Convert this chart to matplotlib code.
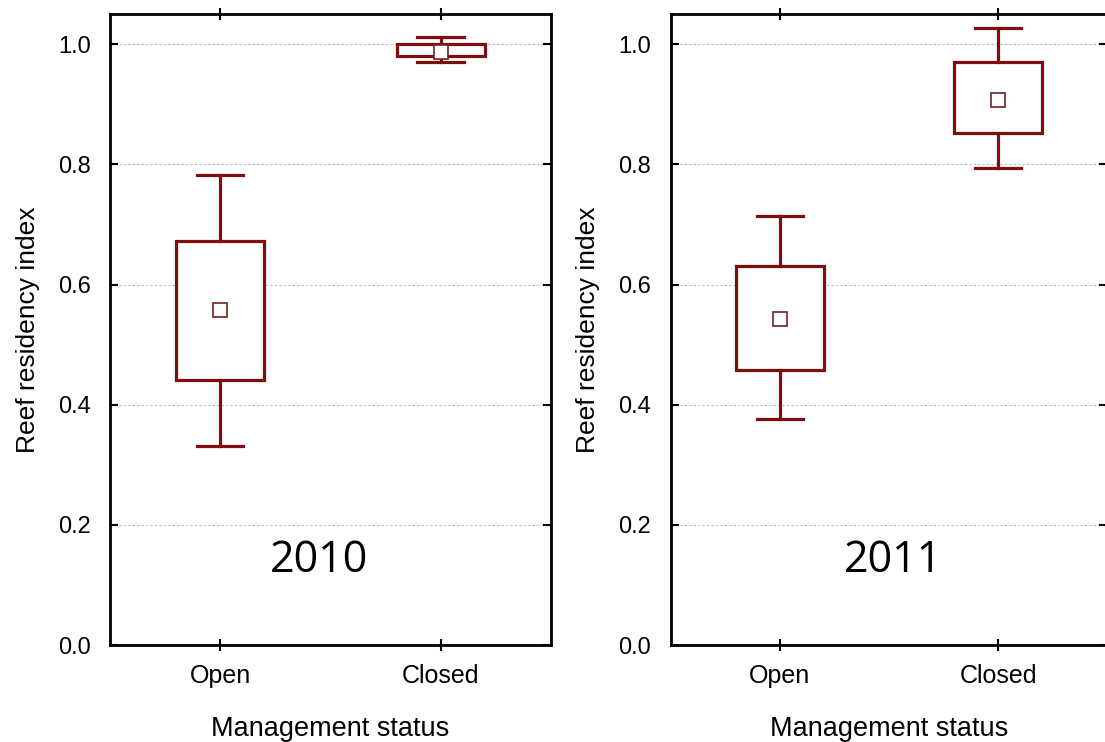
import matplotlib.pyplot as plt

# Reef residency by management status (mean, box = mean +/- SE, whiskers = range shown)
categories = ["Open", "Closed"]
years = ["2010", "2011"]

means = {"2010": [0.557, 0.988], "2011": [0.542, 0.908]}
box_lo = {"2010": [0.441, 0.980], "2011": [0.458, 0.852]}
box_hi = {"2010": [0.672, 1.000], "2011": [0.631, 0.970]}
whis_lo = {"2010": [0.331, 0.970], "2011": [0.376, 0.794]}
whis_hi = {"2010": [0.783, 1.012], "2011": [0.715, 1.027]}

yticks = [0.0, 0.2, 0.4, 0.6, 0.8, 1.0]
red = "#800e0e"

plt.rcParams['font.family'] = ['Liberation Sans', 'DejaVu Sans']

fig = plt.figure(figsize=(11.05, 7.42), dpi=100)
axes = [fig.add_axes([0.0995, 0.1307, 0.399, 0.850]),
        fig.add_axes([0.607, 0.1307, 0.395, 0.850])]
year_x = [0.45, 0.52]

for ax, yr, tx in zip(axes, years, year_x):
    stats = []
    for i, c in enumerate(categories):
        stats.append(dict(label=c, med=means[yr][i], mean=means[yr][i],
                          q1=box_lo[yr][i], q3=box_hi[yr][i],
                          whislo=whis_lo[yr][i], whishi=whis_hi[yr][i]))
    ax.bxp(stats, positions=[0, 1], widths=0.40, capwidths=0.21,
           showmeans=True, showfliers=False, patch_artist=True,
           boxprops=dict(facecolor="white", edgecolor=red, linewidth=2.3),
           whiskerprops=dict(color=red, linewidth=2.3),
           capprops=dict(color=red, linewidth=2.3),
           medianprops=dict(linewidth=0),
           meanprops=dict(marker="s", markersize=10, markerfacecolor="white",
                          markeredgecolor="#6b2525", markeredgewidth=1.2))

    ax.set_xlim(-0.5, 1.5)
    ax.set_ylim(0, 1.05)
    ax.set_yticks(yticks)
    ax.set_yticklabels(["%.1f" % v for v in yticks])
    ax.set_xticks([0, 1])
    ax.set_xticklabels(categories)
    ax.yaxis.grid(True, linestyle=(0, (2, 2)), color="#bbbbbb", linewidth=0.8)
    ax.set_axisbelow(True)

    ax.tick_params(axis="y", direction="in", right=True, length=6, width=1.5,
                   labelsize=17, pad=14)
    ax.tick_params(axis="x", direction="inout", top=True, length=8, width=1.5,
                   labelsize=18, pad=10)
    for s in ax.spines.values():
        s.set_linewidth(2)

    ax.set_ylabel("Reef residency index", fontsize=19, labelpad=13)
    ax.set_xlabel("Management status", fontsize=19.5, labelpad=20)
    ax.text(tx, 0.14, yr, ha="center", va="center", fontsize=31,
            family="Open Sans")

fig.savefig("out.png", dpi=100)
